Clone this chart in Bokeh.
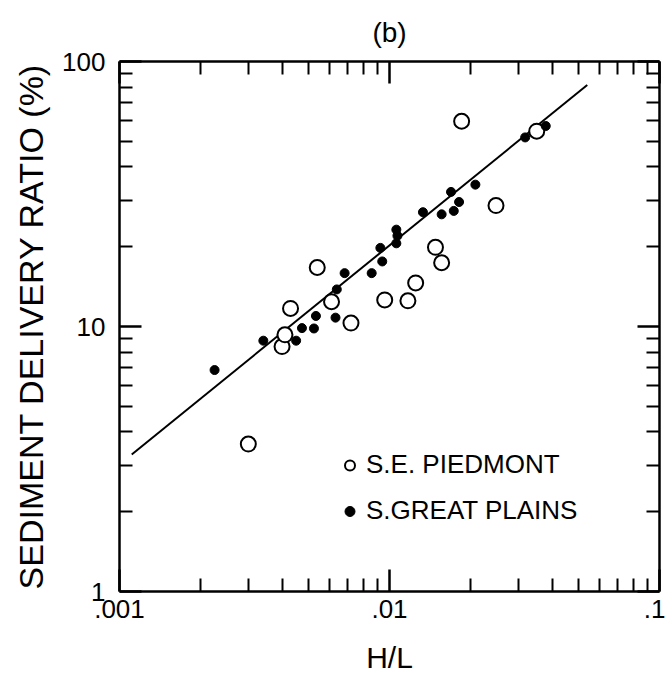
from bokeh.plotting import figure
from bokeh.models import (FixedTicker, CustomJSTickFormatter, LogAxis, Legend,
                          LegendItem, Range1d)
from bokeh.embed import file_html
from bokeh.resources import INLINE

# --- data ---------------------------------------------------------------
piedmont_x = [0.0030, 0.0040, 0.0041, 0.0043, 0.0054, 0.0061, 0.0072, 0.0096,
              0.0117, 0.0125, 0.0148, 0.0156, 0.0185, 0.0248, 0.0351]
piedmont_y = [3.6, 8.4, 9.3, 11.7, 16.7, 12.4, 10.3, 12.6,
              12.5, 14.6, 19.9, 17.4, 59.5, 28.6, 54.6]

plains_x = [0.00225, 0.00341, 0.00451, 0.00474, 0.00525, 0.00534, 0.00631,
            0.00638, 0.00682, 0.00859, 0.00940, 0.00925, 0.0106, 0.0107,
            0.0106, 0.0133, 0.0156, 0.0173, 0.0181, 0.0169, 0.0208, 0.0318,
            0.0379]
plains_y = [6.85, 8.84, 8.84, 9.86, 9.83, 10.96, 10.8,
            13.8, 15.9, 15.9, 17.6, 19.8, 20.6, 22.0,
            23.2, 27.0, 26.5, 27.3, 29.5, 32.2, 34.3, 51.7,
            57.1]

fit_x = [0.00111, 0.0540]
fit_y = [3.29, 81.5]

x_major = [0.001, 0.01, 0.1]
x_minor = [m * 10.0 ** e for e in (-3, -2) for m in range(2, 10)]
y_major = [1, 10, 100]
y_minor = [m * 10.0 ** e for e in (0, 1) for m in range(2, 10)]

FONT = "Liberation Sans"

p = figure(width=665, height=688, x_axis_type="log", y_axis_type="log",
           x_range=Range1d(0.001, 0.1), y_range=Range1d(1, 100),
           output_backend="svg", toolbar_location=None,
           min_border_left=119, min_border_right=6,
           min_border_top=61, min_border_bottom=97)
p.grid.visible = False
p.outline_line_color = None
p.background_fill_color = "white"
p.border_fill_color = "white"

p.title.text = "(b)"
p.title.align = "center"
p.title.text_font = FONT
p.title.text_font_size = "28px"
p.title.text_font_style = "normal"
p.title.text_color = "black"
p.title.offset = -14
p.title.standoff = 27

xfmt = CustomJSTickFormatter(code="return String(tick).replace(/^0\\./, '.');")
yfmt = CustomJSTickFormatter(code="return String(tick);")
blank = CustomJSTickFormatter(code="return '';")


def style(ax, major, minor, fmt, labels=True):
    ax.ticker = FixedTicker(ticks=major, minor_ticks=minor)
    ax.formatter = fmt
    ax.axis_line_width = 2.5
    ax.axis_line_color = "black"
    ax.major_tick_in = 22
    ax.major_tick_out = 0
    ax.minor_tick_in = 13
    ax.minor_tick_out = 0
    ax.major_tick_line_width = 2.5
    ax.minor_tick_line_width = 2
    ax.major_label_text_font = FONT
    ax.major_label_text_color = "black"
    if labels:
        ax.major_label_text_font_size = "26px"
    else:
        ax.major_label_text_font_size = "1px"
        ax.major_label_standoff = 0


xa = p.xaxis[0]
ya = p.yaxis[0]
style(xa, x_major, x_minor, xfmt)
style(ya, y_major, y_minor, yfmt)
xa.major_label_standoff = 8
ya.major_label_standoff = 14

xa.axis_label = "H/L"
xa.axis_label_text_font = FONT
xa.axis_label_text_font_size = "30px"
xa.axis_label_text_font_style = "normal"
xa.axis_label_text_color = "black"
xa.axis_label_standoff = 20

ya.axis_label = "SEDIMENT DELIVERY RATIO (%)"
ya.axis_label_text_font = FONT
ya.axis_label_text_font_size = "34px"
ya.axis_label_text_font_style = "normal"
ya.axis_label_text_color = "black"
ya.axis_label_standoff = 9

top = LogAxis()
style(top, x_major, x_minor, blank, labels=False)
p.add_layout(top, "above")
right = LogAxis()
style(right, y_major, y_minor, blank, labels=False)
p.add_layout(right, "right")

p.line(fit_x, fit_y, line_color="black", line_width=2)
r_open = p.scatter(piedmont_x, piedmont_y, marker="circle", size=15,
                   fill_color="white", line_color="black", line_width=2)
r_fill = p.scatter(plains_x, plains_y, marker="circle", size=9,
                   fill_color="black", line_color="black")

legend = Legend(items=[LegendItem(label="S.E. PIEDMONT", renderers=[r_open]),
                       LegendItem(label="S.GREAT PLAINS", renderers=[r_fill])],
                location=(218, 65), glyph_width=25, glyph_height=30,
                label_height=30, spacing=15, padding=0, margin=0,
                label_standoff=4, border_line_color=None,
                background_fill_alpha=0, label_text_font=FONT,
                label_text_font_size="26px", label_text_color="black")
p.add_layout(legend)

open("out.html", "w").write(file_html(p, INLINE))
